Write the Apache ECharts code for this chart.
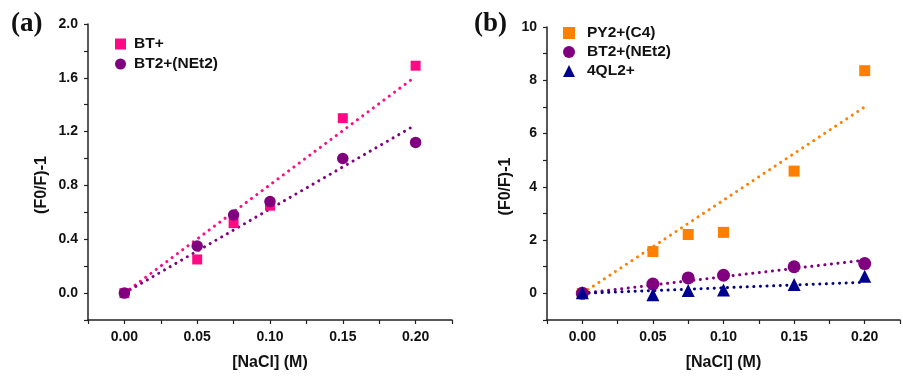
<!DOCTYPE html>
<html>
<head>
<meta charset="utf-8">
<script src="https://cdn.jsdelivr.net/npm/echarts@6/dist/echarts.min.js"></script>
<style>
  html, body { margin: 0; padding: 0; background: #fff; }
  #chart { width: 903px; height: 376px; }
</style>
</head>
<body>
<div id="chart"></div>
<script>
// [NaCl] (M) concentrations
const conc = [0, 0.05, 0.075, 0.1, 0.15, 0.2]

// (F0/F)-1 values
const btPlus = [0, 0.25, 0.52, 0.65, 1.30, 1.69]
const bt2NEt2 = [0, 0.35, 0.58, 0.68, 1.00, 1.12]
const py2C4 = [0, 1.57, 2.21, 2.29, 4.59, 8.36]
const ql2Plus = [0.02, -0.05, 0.11, 0.13, 0.33, 0.64]

// dotted linear fits (end points)
const fitX = [0, 0.2]
const fitBtPlus = [0, 1.61]
const fitBt2NEt2 = [0, 1.25]
const fitPy2C4 = [0, 7.0]
const fitQl2Plus = [0, 0.42]

const pink = '#FF0A84'
const purple = '#800080'
const orange = '#FF8000'
const navy = '#00008F'

const font = '"Liberation Sans", Arial, sans-serif'

const pairs = (xs, ys) => xs.map((x, i) => [x, ys[i]])

function xAxisFor(gridIndex) {
  return {
    type: 'value',
    gridIndex: gridIndex,
    min: -0.025,
    max: 0.225,
    interval: 0.025,
    name: '[NaCl] (M)',
    nameLocation: 'middle',
    nameGap: 35,
    nameTextStyle: { fontFamily: font, fontWeight: 'bold', fontSize: 16, color: '#111' },
    axisLine: { onZero: false, lineStyle: { color: '#222', width: 1.5 } },
    axisTick: { length: 4, lineStyle: { color: '#222', width: 1.2 } },
    splitLine: { show: false },
    axisLabel: {
      margin: 10,
      fontFamily: font, fontWeight: 'bold', fontSize: 14, color: '#111',
      formatter: function (v) {
        const k = Math.round(v / 0.025)
        return k >= 0 && k % 2 === 0 ? v.toFixed(2) : ''
      }
    }
  }
}

function yAxisFor(gridIndex, min, max, interval, gap, fmt) {
  return {
    type: 'value',
    gridIndex: gridIndex,
    min: min,
    max: max,
    interval: interval,
    name: '(F0/F)-1',
    nameLocation: 'middle',
    nameGap: gap,
    nameTextStyle: {
      fontFamily: font, fontWeight: 'bold', fontSize: 16, color: '#111',
      padding: [0, 26, 0, 0]
    },
    axisLine: { onZero: false, lineStyle: { color: '#222', width: 1.5 } },
    axisTick: { length: 4, lineStyle: { color: '#222', width: 1.2 } },
    splitLine: { show: false },
    axisLabel: {
      margin: 10,
      fontFamily: font, fontWeight: 'bold', fontSize: 14, color: '#111',
      formatter: fmt
    }
  }
}

function fitLine(xi, yi, ys, color) {
  return {
    type: 'line',
    xAxisIndex: xi,
    yAxisIndex: yi,
    data: pairs(fitX, ys),
    showSymbol: false,
    silent: true,
    z: 1,
    lineStyle: { color: color, width: 3, type: [0.1, 6.5], cap: 'round' }
  }
}

function dots(name, xi, yi, ys, symbol, size, color) {
  return {
    name: name,
    type: 'scatter',
    xAxisIndex: xi,
    yAxisIndex: yi,
    data: pairs(conc, ys),
    symbol: symbol,
    symbolSize: size,
    itemStyle: { color: color, opacity: 1 },
    z: 3
  }
}

const legendText = (pad) => ({
  fontFamily: font, fontWeight: 'bold', fontSize: 15.5, color: '#111',
  padding: [0, 0, 0, pad]
})

const option = {
  animation: false,
  backgroundColor: '#fff',
  grid: [
    { left: 88, top: 24, right: 451, bottom: 54 },
    { left: 547, top: 27, right: -8, bottom: 53 }
  ],
  xAxis: [xAxisFor(0), xAxisFor(1)],
  yAxis: [
    yAxisFor(0, -0.2, 2.0, 0.2, 38, function (v) {
      const k = Math.round(v / 0.2)
      return k >= 0 && k % 2 === 0 ? v.toFixed(1) : ''
    }),
    yAxisFor(1, -1, 10, 1, 33, function (v) {
      return v >= 0 && v % 2 === 0 ? String(v) : ''
    })
  ],
  legend: [
    {
      data: ['BT+', 'BT2+(NEt2)'],
      orient: 'vertical',
      left: 110,
      top: 31,
      itemWidth: 11,
      itemHeight: 11,
      itemGap: 4,
      textStyle: legendText(3)
    },
    {
      data: ['PY2+(C4)', 'BT2+(NEt2)', '4QL2+'],
      orient: 'vertical',
      left: 558,
      top: 20,
      itemWidth: 12,
      itemHeight: 12,
      itemGap: 3,
      textStyle: legendText(7)
    }
  ],
  graphic: [
    { type: 'text', left: 11, top: 11, style: { text: '(a)', font: 'bold 27px "Liberation Serif", serif', fill: '#111' } },
    { type: 'text', left: 474, top: 11, style: { text: '(b)', font: 'bold 27px "Liberation Serif", serif', fill: '#111' } }
  ],
  series: [
    fitLine(0, 0, fitBtPlus, pink),
    fitLine(0, 0, fitBt2NEt2, purple),
    dots('BT+', 0, 0, btPlus, 'rect', 10, pink),
    dots('BT2+(NEt2)', 0, 0, bt2NEt2, 'circle', 11.5, purple),

    fitLine(1, 1, fitPy2C4, orange),
    fitLine(1, 1, fitBt2NEt2, purple),
    fitLine(1, 1, fitQl2Plus, navy),
    dots('PY2+(C4)', 1, 1, py2C4, 'rect', 11, orange),
    dots('BT2+(NEt2)', 1, 1, bt2NEt2, 'circle', 13, purple),
    dots('4QL2+', 1, 1, ql2Plus, 'triangle', 13, navy)
  ]
}

const myChart = echarts.init(document.getElementById('chart'))
myChart.setOption(option)
</script>
</body>
</html>
